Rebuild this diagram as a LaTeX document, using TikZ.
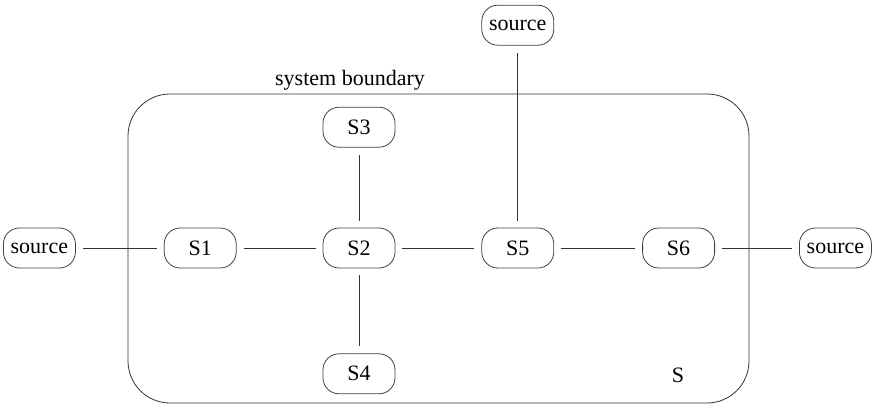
\documentclass[tikz,border=0pt]{standalone}
\usepackage{fontspec}
\setmainfont{Liberation Serif}
\usetikzlibrary{positioning}

\begin{document}
\begin{tikzpicture}[
    x=1pt, y=-1pt,
    node distance=80pt and 86pt,
    every node/.style={font=\fontsize{22}{26}\selectfont},
    comp/.style={rectangle, draw=black!75, line width=0.8pt, rounded corners=16pt, minimum width=72pt, minimum height=40pt, inner sep=2pt},
    link/.style={draw=black!80, line width=0.8pt, shorten <=7pt, shorten >=7pt},
]
    \useasboundingbox (0,0) rectangle (873,406);

    % boundary of the system
    \draw[black!80, line width=0.8pt, rounded corners=42pt] (128,94) rectangle (749,403);
    \node (blabel) at (350,80) {system boundary};
    \node (sname) at (678,375) {S};

    % middle row
    \node[comp] (s2) at (359,248) {S2};
    \node[comp, left=of s2] (s1) {S1};
    \node[comp, left=88pt of s1] (srcl) {source};
    \node[comp, right=of s2] (s5) {S5};
    \node[comp, right=88pt of s5] (s6) {S6};
    \node[comp, right=84pt of s6] (srcr) {source};

    % branches above and below
    \node[comp, above=of s2] (s3) {S3};
    \node[comp, below=85pt of s2] (s4) {S4};
    \node[comp, above=182pt of s5] (srct) {source};

    % connections
    \draw[link] (srcl) -- (s1);
    \draw[link] (s1) -- (s2);
    \draw[link] (s2) -- (s5);
    \draw[link] (s5) -- (s6);
    \draw[link] (s6) -- (srcr);
    \draw[link] (s2) -- (s3);
    \draw[link] (s2) -- (s4);
    \draw[link] (s5) -- (srct);
\end{tikzpicture}
\end{document}
